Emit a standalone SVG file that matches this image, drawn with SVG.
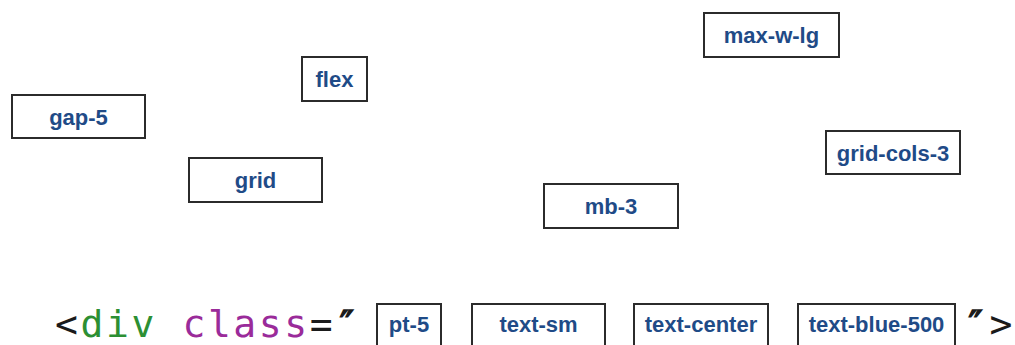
<svg xmlns="http://www.w3.org/2000/svg" width="1015" height="345" viewBox="0 0 1015 345">
  <style>
    .box rect { fill: #ffffff; stroke: #2b2b2b; stroke-width: 2; }
    .box text { font-family: "Liberation Sans", Arial, sans-serif; font-weight: bold; font-size: 22px; fill: #1f4b87; text-anchor: middle; }
    .code { font-family: "DejaVu Sans Mono", "Liberation Mono", monospace; font-size: 38px; letter-spacing: 2.6px; fill: #1a1a1a; }
    .tag { fill: #2c8f33; }
    .attr { fill: #9a2b9a; }
    .quote { stroke: #1a1a1a; stroke-width: 1.4px; }
  </style>
  <rect width="1015" height="345" fill="#ffffff"/>

  <!-- floating utility classes -->
  <g id="node-max-w-lg" class="box"><rect x="704" y="13" width="135" height="44"/><text x="771.5" y="43">max-w-lg</text></g>
  <g id="node-flex" class="box"><rect x="302" y="57" width="65" height="44"/><text x="334.5" y="87">flex</text></g>
  <g id="node-gap-5" class="box"><rect x="12" y="95" width="133" height="43"/><text x="78.5" y="124.5">gap-5</text></g>
  <g id="node-grid-cols-3" class="box"><rect x="826" y="131" width="134" height="43"/><text x="893" y="160.5">grid-cols-3</text></g>
  <g id="node-grid" class="box"><rect x="189" y="158" width="133" height="44"/><text x="255.5" y="188">grid</text></g>
  <g id="node-mb-3" class="box"><rect x="544" y="184" width="134" height="44"/><text x="611" y="214">mb-3</text></g>

  <!-- markup line with the applied classes -->
  <text class="code" x="55" y="337">&lt;<tspan class="tag">div</tspan> <tspan class="attr">class</tspan>=<tspan class="quote">″</tspan></text>
  <g id="node-pt-5" class="box"><rect x="377" y="304" width="64" height="46"/><text x="409" y="332">pt-5</text></g>
  <g id="node-text-sm" class="box"><rect x="472" y="304" width="133" height="46"/><text x="538.5" y="332">text-sm</text></g>
  <g id="node-text-center" class="box"><rect x="634" y="304" width="134" height="46"/><text x="701" y="332">text-center</text></g>
  <g id="node-text-blue-500" class="box"><rect x="798" y="304" width="157" height="46"/><text x="876.5" y="332">text-blue-500</text></g>
  <text class="code" x="964" y="337"><tspan class="quote">″</tspan>&gt;</text>

  <g id="connectors"/>
</svg>
